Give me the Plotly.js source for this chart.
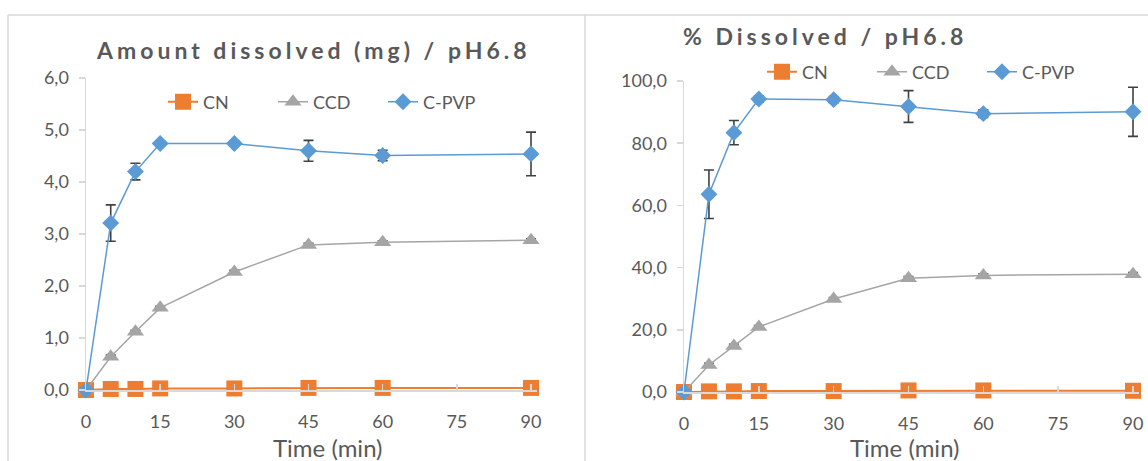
<!DOCTYPE html>
<html>
<head>
<meta charset="utf-8">
<script src="https://cdn.plot.ly/plotly-3.0.1.min.js"></script>
<style>
  html, body { margin: 0; padding: 0; background: #fff; }
  #chart { width: 1148px; height: 461px; }
  .spaced-title { letter-spacing: 4px; }
</style>
</head>
<body>
<div id="chart"></div>
<script>
// ---- Data ----
const time = [0, 5, 10, 15, 30, 45, 60, 90];
const seriesNames = ["CN", "CCD", "C-PVP"];
const xTicks = [0, 15, 30, 45, 60, 75, 90];

// Amount dissolved (mg)
const mgCN = [0, 0.02, 0.02, 0.03, 0.03, 0.04, 0.04, 0.04];
const mgCCD = [0, 0.64, 1.12, 1.58, 2.27, 2.79, 2.84, 2.88];
const mgCCDerr = [0, 0.03, 0.03, 0.03, 0.03, 0.03, 0.03, 0.03];
const mgPVP = [0, 3.21, 4.20, 4.74, 4.74, 4.60, 4.51, 4.54];
const mgPVPerr = [0, 0.35, 0.16, 0.05, 0.05, 0.20, 0.10, 0.42];
const mgTicks = [0, 1, 2, 3, 4, 5, 6];

// % Dissolved
const pctCN = [0, 0.2, 0.2, 0.3, 0.3, 0.5, 0.5, 0.4];
const pctCCD = [0, 8.7, 14.8, 20.9, 29.9, 36.6, 37.5, 37.9];
const pctCCDerr = [0, 0.5, 0.5, 0.5, 0.5, 0.5, 0.5, 0.5];
const pctPVP = [0, 63.6, 83.4, 94.2, 94.0, 91.8, 89.5, 90.1];
const pctPVPerr = [0, 7.8, 3.9, 1.0, 1.0, 5.1, 1.2, 7.9];
const pctTicks = [0, 20, 40, 60, 80, 100];

const titles = ["Amount dissolved (mg) / pH6.8", "% Dissolved / pH6.8"];
const xTitle = "Time (min)";

// ---- Styles ----
const W = 1148, H = 461;
const FONT = "Lato, 'Open Sans', sans-serif";
const TXT = "#595959";
const AXC = "#d9d9d9";
const colors = { CN: "#ED7D31", CCD: "#A5A5A5", "C-PVP": "#5B9BD5" };
const markers = {
  CN: { symbol: "square", size: 16 },
  CCD: { symbol: "triangle-up", size: 15 },
  "C-PVP": { symbol: "diamond", size: 13 }
};
const px = v => v / W;
const py = v => (H - v) / H;
const XMAX = 91.2;  // small headroom so the 90-min error caps are not clipped

function mkTrace(name, y, err, xa, ya, legend) {
  const t = {
    type: "scatter", mode: "lines+markers", name: name,
    x: time, y: y, xaxis: xa, yaxis: ya, legend: legend,
    showlegend: true, cliponaxis: false,
    line: { color: colors[name], width: name === "CN" ? 2 : 1.5 },
    marker: { color: colors[name], symbol: markers[name].symbol, size: markers[name].size, line: { width: 0 } }
  };
  if (err) {
    t.error_y = { type: "data", array: err, visible: true, color: "#404040", thickness: 1.6, width: 5 };
  }
  return t;
}

const data = [
  mkTrace("CN", mgCN, null, "x", "y", "legend"),
  mkTrace("CCD", mgCCD, mgCCDerr, "x", "y", "legend"),
  mkTrace("C-PVP", mgPVP, mgPVPerr, "x", "y", "legend"),
  mkTrace("CN", pctCN, null, "x2", "y2", "legend2"),
  mkTrace("CCD", pctCCD, pctCCDerr, "x2", "y2", "legend2"),
  mkTrace("C-PVP", pctPVP, pctPVPerr, "x2", "y2", "legend2")
];

function xAxis(x0, x90, anchor) {
  const ppm = (x90 - x0) / 90;
  return {
    domain: [px(x0), px(x0 + ppm * XMAX)], anchor: anchor, range: [0, XMAX], tickvals: xTicks,
    showgrid: false, zeroline: false, showline: true, linecolor: AXC, linewidth: 1.5,
    ticks: "inside", ticklen: 6, tickcolor: AXC, tickwidth: 1.5,
    tickfont: { family: FONT, size: 18, color: TXT },
    ticklabelstandoff: 15,
    fixedrange: true
  };
}
function yAxis(domain, anchor, range, ticks) {
  return {
    domain: domain, anchor: anchor, range: range, tickvals: ticks, tickformat: ".1f",
    showgrid: false, zeroline: false, showline: true, linecolor: AXC, linewidth: 1.5,
    ticks: "outside", ticklen: 6, tickcolor: AXC, tickwidth: 1.5,
    tickfont: { family: FONT, size: 18, color: TXT },
    ticklabelstandoff: 6,
    fixedrange: true
  };
}

const legendCommon = {
  orientation: "h", xanchor: "left", yanchor: "middle", entrywidth: 65, entrywidthmode: "pixels",
  font: { family: FONT, size: 18, color: TXT }, bgcolor: "rgba(0,0,0,0)", itemclick: false
};

const layout = {
  width: W, height: H,
  margin: { l: 0, r: 0, t: 0, b: 0 },
  paper_bgcolor: "#fff", plot_bgcolor: "rgba(0,0,0,0)",
  separators: ", ",
  font: { family: FONT, color: TXT },
  xaxis: xAxis(86, 531, "y"),
  yaxis: yAxis([py(390), py(78)], "x", [0, 6], mgTicks),
  xaxis2: xAxis(684, 1133, "y2"),
  yaxis2: yAxis([py(392), py(81)], "x2", [0, 100], pctTicks),
  legend: Object.assign({}, legendCommon, { x: px(163), y: py(102) }),
  legend2: Object.assign({}, legendCommon, { x: px(762), y: py(72) }),
  annotations: [
    { text: titles[0], xref: "paper", yref: "paper", x: px(313), y: py(50), xanchor: "center", yanchor: "middle",
      showarrow: false, font: { family: FONT, size: 23, color: TXT, weight: "bold" } },
    { text: titles[1], xref: "paper", yref: "paper", x: px(825), y: py(36), xanchor: "center", yanchor: "middle",
      showarrow: false, font: { family: FONT, size: 23, color: TXT, weight: "bold" } },
    { text: xTitle, xref: "paper", yref: "paper", x: px(328), y: py(447), xanchor: "center", yanchor: "middle",
      showarrow: false, font: { family: FONT, size: 24, color: TXT } },
    { text: xTitle, xref: "paper", yref: "paper", x: px(905), y: py(447), xanchor: "center", yanchor: "middle",
      showarrow: false, font: { family: FONT, size: 24, color: TXT } }
  ],
  shapes: [
    { type: "line", xref: "paper", yref: "paper", x0: px(8), x1: px(8), y0: 0, y1: py(15), line: { color: AXC, width: 1.5 } },
    { type: "line", xref: "paper", yref: "paper", x0: px(8), x1: 1, y0: py(15), y1: py(15), line: { color: AXC, width: 1.5 } },
    { type: "line", xref: "paper", yref: "paper", x0: px(585), x1: px(585), y0: 0, y1: py(15), line: { color: AXC, width: 1.5 } }
  ],
  showlegend: true
};

Plotly.newPlot("chart", data, layout, { displayModeBar: false, staticPlot: true }).then(() => {
  document.querySelectorAll(".annotation-text").forEach(el => {
    if (titles.includes(el.textContent)) el.classList.add("spaced-title");
  });
});
</script>
</body>
</html>
